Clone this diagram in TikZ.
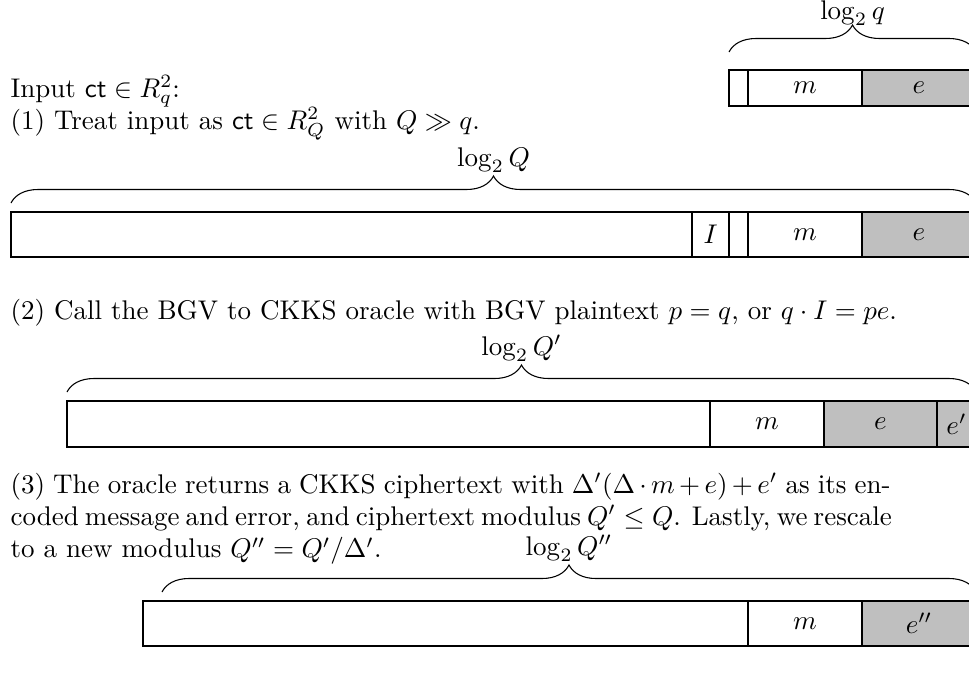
\documentclass[tikz,border=0pt]{standalone}
\usetikzlibrary{decorations.pathreplacing}
\begin{document}
\begin{tikzpicture}[x=0.3704pt,y=-0.3704pt,
  cellline/.style={draw, line width=0.4pt},
  errfill/.style={fill=lightgray},
  brc/.style={decorate, decoration={brace, amplitude=10pt}},
  lbl/.style={midway, anchor=south, inner sep=0pt, yshift=11pt},
  txt/.style={anchor=base west, inner sep=0pt}]
\useasboundingbox (0,0) rectangle (969,676);

% ---------- texts ----------
\node[txt] (in) at (10,97) {Input $\mathsf{ct}\in R_q^2$:};
\node[txt] (s1) at (10,129) {(1) Treat input as $\mathsf{ct}\in R_Q^2$ with $Q\gg q$.};
\node[txt] (s2) at (10,319) {(2) Call the BGV to CKKS oracle with BGV plaintext $p=q$, or $q\cdot I=pe$.};
\node[txt] (s3a) at (10,493) {\makebox[326pt][s]{(3) The oracle returns a CKKS ciphertext with $\Delta'(\Delta\cdot m+e)+e'$ as its en-}};
\node[txt] (s3b) at (10,525.4) {\makebox[326pt][s]{coded message and error, and ciphertext modulus $Q'\le Q$. Lastly, we rescale}};
\node[txt] (s3c) at (10,557.8) {to a new modulus $Q''=Q'/\Delta'$.};

% ---------- box 1 ----------
\path[errfill] (862,70) rectangle (976,106);
\draw[cellline] (729,70) rectangle (976,106);
\draw[cellline] (748,70) -- (748,106) (862,70) -- (862,106);
\node (m1) at (805,88) {$m$};
\node (e1) at (919,88) {$e$};
\draw[brc] (729,52) -- (976,52) node[lbl, yshift=-1.5pt] (l1) {$\log_2 q$};

% ---------- box 2 ----------
\path[errfill] (862,212) rectangle (976,257);
\draw[cellline] (11,212) rectangle (976,257);
\draw[cellline] (692,212) -- (692,257) (729,212) -- (729,257)
  (748,212) -- (748,257) (862,212) -- (862,257);
\node (i2) at (710.5,234.5) {$I$};
\node (m2) at (805,234.5) {$m$};
\node (e2) at (919,234.5) {$e$};
\draw[brc] (11,203) -- (976,203) node[lbl] (l2) {$\log_2 Q$};

% ---------- box 3 ----------
\path[errfill] (824,401) rectangle (976,447);
\draw[cellline] (67,401) rectangle (976,447);
\draw[cellline] (710,401) -- (710,447) (824,401) -- (824,447) (937,401) -- (937,447);
\node (m3) at (767,424) {$m$};
\node (e3) at (880.5,424) {$e$};
\node (f3) at (956.5,424) {$e'$};
\draw[brc] (67,392) -- (976,392) node[lbl] (l3) {$\log_2 Q'$};

% ---------- box 4 ----------
\path[errfill] (862,601) rectangle (976,646);
\draw[cellline] (143,601) rectangle (976,646);
\draw[cellline] (748,601) -- (748,646) (862,601) -- (862,646);
\node (m4) at (805,623.5) {$m$};
\node (e4) at (919,623.5) {$e''$};
\draw[brc] (162,592) -- (976,592) node[lbl] (l4) {$\log_2 Q''$};
\end{tikzpicture}
\end{document}
